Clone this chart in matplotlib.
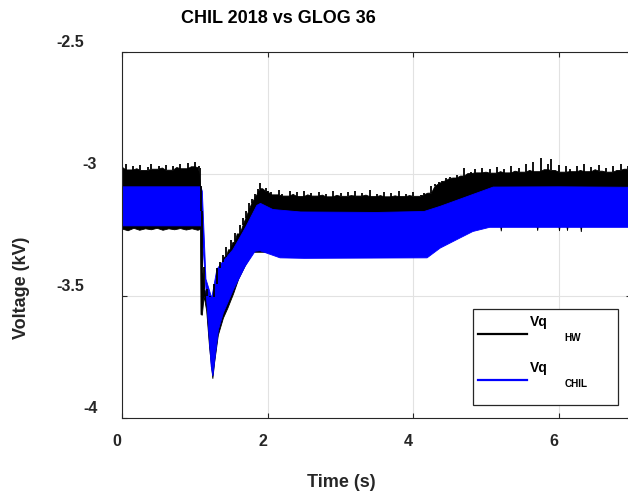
import numpy as np
import matplotlib
matplotlib.use("Agg")
import matplotlib.pyplot as plt
import matplotlib.transforms as mtransforms
from matplotlib.patches import Rectangle
from matplotlib.lines import Line2D

plt.rcParams['font.family'] = ['Liberation Sans', 'DejaVu Sans']
plt.rcParams['font.weight'] = 'bold'

# ---- data (envelopes of the oscillating signals) ----
# Vq HW (black) upper envelope, flat start
hw_hi_a = [-2.972, -2.958, -2.983, -2.965, -2.978, -2.962, -2.985, -2.970,
           -2.960, -2.980, -2.968, -2.975, -2.962, -2.984, -2.966, -2.973,
           -2.958, -2.978, -2.955, -2.970, -2.952, -2.968]
# around the dip
hw_hi_dip_t = [1.075, 1.085, 1.10, 1.13, 1.17, 1.21, 1.235, 1.26, 1.30, 1.34,
               1.38, 1.40, 1.43, 1.46, 1.49, 1.52, 1.55, 1.58, 1.62, 1.66,
               1.70, 1.74, 1.78, 1.82, 1.86, 1.895, 1.93, 1.97, 2.00]
hw_hi_dip = [-2.975, -3.05, -3.15, -3.38, -3.47, -3.50, -3.505, -3.45, -3.385,
             -3.36, -3.33, -3.34, -3.30, -3.31, -3.27, -3.28, -3.24, -3.245,
             -3.21, -3.18, -3.15, -3.12, -3.10, -3.08, -3.06, -3.035, -3.06,
             -3.055, -3.07]
# plateau 2.05 .. 4.15
hw_hi_b = [-3.072, -3.085, -3.066, -3.080, -3.090, -3.070, -3.083, -3.075,
           -3.092, -3.068, -3.085, -3.078, -3.090, -3.072, -3.086, -3.080,
           -3.093, -3.070, -3.087, -3.076, -3.091, -3.074, -3.088, -3.068,
           -3.090, -3.079, -3.086, -3.066, -3.092, -3.080, -3.088, -3.073,
           -3.093, -3.078, -3.089, -3.070, -3.092, -3.082, -3.088, -3.075,
           -3.091, -3.085, -3.078]
# rise and final plateau 4.20 .. 7.00
hw_hi_c = [-3.078, -3.050, -3.040, -3.032, -3.027, -3.018, -3.012, -3.016,
           -3.003, -3.008, -2.975, -2.998, -2.990, -2.978, -2.995, -2.975,
           -2.992, -2.980, -2.996, -2.970, -2.990, -2.978, -2.995, -2.968,
           -2.988, -2.975, -2.992, -2.960, -2.985, -2.950, -2.990, -2.935,
           -2.982, -2.960, -2.940, -2.985, -2.962, -2.992, -2.968, -2.980,
           -2.990, -2.965, -2.985, -2.958, -2.990, -2.970, -2.982, -2.962,
           -2.988, -2.975, -2.992, -2.966, -2.985, -2.960, -2.980, -2.965,
           -2.975]

hw_lo_t = [0.00, 0.08, 0.16, 0.24, 0.32, 0.40, 0.48, 0.56, 0.64, 0.72, 0.80,
           0.88, 0.96, 1.04, 1.075, 1.082, 1.100, 1.125, 1.16, 1.20, 1.245,
           1.27, 1.32, 1.39, 1.45, 1.53, 1.60, 1.70, 1.80, 2.00, 4.20, 4.37,
           4.64, 5.05, 5.20, 5.21, 5.22, 5.70, 5.71, 5.72, 6.00, 6.01, 6.02,
           6.11, 6.12, 6.13, 6.30, 6.31, 6.32, 7.00]
hw_lo = [-3.225, -3.232, -3.222, -3.230, -3.224, -3.228, -3.222, -3.230,
         -3.224, -3.228, -3.223, -3.229, -3.224, -3.230, -3.226, -3.575,
         -3.578, -3.50, -3.56, -3.71, -3.838, -3.77, -3.66, -3.59, -3.55,
         -3.49, -3.43, -3.37, -3.32, -3.32, -3.32, -3.28, -3.24, -3.21,
         -3.21, -3.234, -3.21, -3.21, -3.232, -3.21, -3.21, -3.233, -3.21,
         -3.21, -3.232, -3.21, -3.21, -3.237, -3.21, -3.21]

# Vq CHIL (blue) envelopes
chil_hi_t = [0.0, 1.08, 1.10, 1.15, 1.23, 1.30, 1.35, 1.52, 1.70, 1.85, 1.90,
             2.07, 2.45, 3.50, 4.15, 4.37, 4.50, 5.10, 6.00, 7.00]
chil_hi = [-3.052, -3.052, -3.07, -3.43, -3.507, -3.39, -3.37, -3.31, -3.215,
           -3.128, -3.12, -3.145, -3.155, -3.157, -3.153, -3.132, -3.118,
           -3.053, -3.052, -3.054]
chil_lo_t = [0.0, 1.085, 1.116, 1.163, 1.199, 1.222, 1.245, 1.322, 1.39,
             1.528, 1.688, 1.826, 1.894, 2.169, 2.5, 4.19, 4.37, 4.64, 4.82,
             5.05, 7.0]
chil_lo = [-3.212, -3.212, -3.323, -3.527, -3.691, -3.787, -3.827, -3.637,
           -3.568, -3.473, -3.378, -3.316, -3.314, -3.343, -3.345, -3.343,
           -3.303, -3.262, -3.235, -3.218, -3.218]

xticks = [0, 2, 4, 6]
yticks = [-4, -3.5, -3, -2.5]
ytick_labels = ['-4', '-3.5', '-3', '-2.5']

hw_hi_t = np.r_[np.linspace(0.0, 1.05, len(hw_hi_a)), hw_hi_dip_t,
                np.linspace(2.05, 4.15, len(hw_hi_b)),
                np.linspace(4.20, 7.00, len(hw_hi_c))]
hw_hi = np.r_[hw_hi_a, hw_hi_dip, hw_hi_b, hw_hi_c]
# solid part of the black band sits below the thin spikes
hw_bulk = np.minimum(np.minimum(hw_hi, np.r_[hw_hi[0], hw_hi[:-1]]),
                     np.r_[hw_hi[1:], hw_hi[-1]])

# ---- figure ----
W, H = 628, 493
fig = plt.figure(figsize=(W / 100, H / 100), dpi=100)
ax = fig.add_axes([122.3 / W, 1 - 418.3 / H, (631.5 - 122.3) / W, (418.3 - 52) / H])

dark = '#262626'
ax.fill(np.r_[hw_hi_t, np.array(hw_lo_t)[::-1]], np.r_[hw_bulk, np.array(hw_lo)[::-1]],
        color='black', lw=0.6)
ax.vlines(hw_hi_t, hw_bulk, hw_hi, color='black', lw=1.3)
ax.fill(np.r_[chil_hi_t, np.array(chil_lo_t)[::-1]], np.r_[chil_hi, np.array(chil_lo)[::-1]],
        color='#0000ff', lw=0.6)

ax.set_xlim(0, 7)
ax.set_ylim(-4, -2.5)
ax.set_xticks(xticks)
ax.set_xticklabels([str(v) for v in xticks])
ax.set_yticks(yticks)
ax.set_yticklabels(ytick_labels)
ax.grid(True, color='#e2e2e2', lw=0.8)
ax.set_axisbelow(True)
for s in ax.spines.values():
    s.set_color(dark)
    s.set_linewidth(0.8)
ax.tick_params(direction='in', length=3.5, width=0.8, color=dark, pad=0,
               labelsize=11.5, labelcolor=dark, top=True, right=True)

# MATLAB-like odd placement of tick labels
for lab in ax.get_xticklabels():
    lab.set_transform(lab.get_transform() + mtransforms.Affine2D().translate(-5.3, -27.4))
    lab.set_ha('center')
    lab.set_va('baseline')
for lab, dx in zip(ax.get_yticklabels(), [-32, -52, -32.5, -52]):
    lab.set_transform(lab.get_transform() + mtransforms.Affine2D().translate(dx, 5))
    lab.set_ha('center')
    lab.set_va('baseline')

fig.text(278.5 / W, 1 - 18.8 / H, 'CHIL 2018 vs GLOG 36', fontsize=13,
         fontweight='bold', ha='center', va='center', color='black')
fig.text(341.7 / W, 1 - 482.5 / H, 'Time (s)', fontsize=13, fontweight='bold',
         ha='center', va='center', color=dark)
fig.text(21.7 / W, 1 - 288 / H, 'Voltage (kV)', fontsize=13, fontweight='bold',
         ha='center', va='center', rotation=90, color=dark)

# legend drawn by hand (MATLAB puts the subscripts far to the right)
fig.add_artist(Rectangle((472.7 / W, 1 - 405 / H), 145.6 / W, 95.7 / H,
                         facecolor='white', edgecolor=dark, lw=0.9))
for yy, col, sub, base_v, base_s in [(334.3, 'black', 'HW', 326, 340.7),
                                      (380, '#0000ff', 'CHIL', 371.7, 386.7)]:
    fig.add_artist(Line2D([478 / W, 526.7 / W], [1 - yy / H, 1 - yy / H],
                          color=col, lw=1.6))
    fig.text(530 / W, 1 - base_v / H, 'Vq', fontsize=10, fontweight='bold',
             ha='left', va='baseline', color='black')
    fig.text(564.3 / W, 1 - base_s / H, sub, fontsize=7.2, fontweight='bold',
             ha='left', va='baseline', color='black')

fig.savefig('out.png', dpi=100)
